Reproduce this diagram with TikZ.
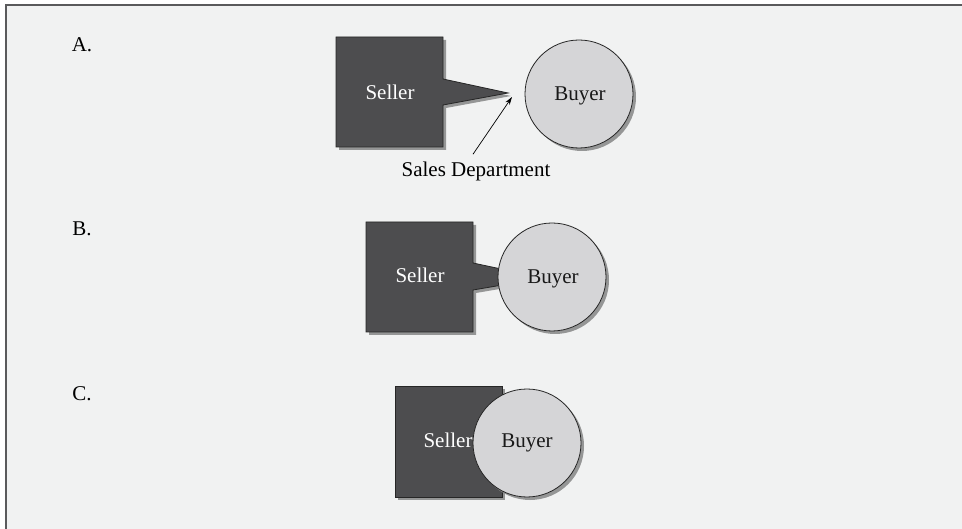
\documentclass[tikz,border=0pt]{standalone}
\usepackage{fontspec}
\setmainfont{Liberation Serif}
\usetikzlibrary{shadows,arrows.meta}
\definecolor{bgcol}{HTML}{F1F2F2}
\definecolor{framecol}{HTML}{5A5A5C}
\definecolor{sellerfill}{HTML}{4D4D4F}
\definecolor{buyerfill}{HTML}{D5D5D7}
\begin{document}
\begin{tikzpicture}[x=1pt,y=-1pt,
  txt/.style={font=\fontsize{21}{25}\selectfont, inner sep=0pt, anchor=base},
  sellershape/.style={fill=sellerfill, draw=black!85, line width=0.8pt,
    drop shadow={shadow xshift=3pt, shadow yshift=-3pt, fill=black!45, opacity=0.9}},
  buyershape/.style={circle, minimum size=108pt, inner sep=0pt, fill=buyerfill, draw=black!85, line width=0.8pt,
    drop shadow={shadow xshift=3pt, shadow yshift=-3pt, fill=black!45, opacity=0.9}},
  sellertext/.style={txt, text=white},
  buyertext/.style={txt, text=black!90}]
\useasboundingbox (0,0) rectangle (962,529);
\fill[bgcol] (6,5) rectangle (962,529);
\draw[framecol, line width=2pt] (6,529) -- (6,5) -- (962,5);

% A
\node[txt] (labA) at (82,52) {A.};
\fill[sellershape] (336,37) -- (443,37) -- (443,79) -- (508,93) -- (443,105) -- (443,147) -- (336,147) -- cycle;
\node[sellertext] (sellerA) at (390,100) {Seller};
\node[buyershape] (buyerA) at (579,94) {};
\node[buyertext] (buyerAt) at (580,101) {Buyer};
\coordinate (tipA) at (512,97);
\node[txt, inner sep=3pt] (salesA) at (476,177) {Sales Department};
\draw[black, line width=0.7pt, -{Stealth[length=8pt,width=5pt]}] ([shift={(-3,-5)}]salesA.north) -- (tipA);

% B
\node[txt] (labB) at (82,236) {B.};
\fill[sellershape] (366,222) -- (473,222) -- (473,263) -- (520,273) -- (520,282) -- (473,290) -- (473,332) -- (366,332) -- cycle;
\node[sellertext] (sellerB) at (420,283) {Seller};
\node[buyershape] (buyerB) at (552,277) {};
\node[buyertext] (buyerBt) at (553,284) {Buyer};

% C
\node[txt] (labC) at (82,401) {C.};
\fill[sellershape] (395,386) rectangle (502,497);
\node[sellertext] (sellerC) at (448,447) {Seller};
\node[buyershape] (buyerC) at (527,443) {};
\node[buyertext] (buyerCt) at (527,447) {Buyer};
\end{tikzpicture}
\end{document}
